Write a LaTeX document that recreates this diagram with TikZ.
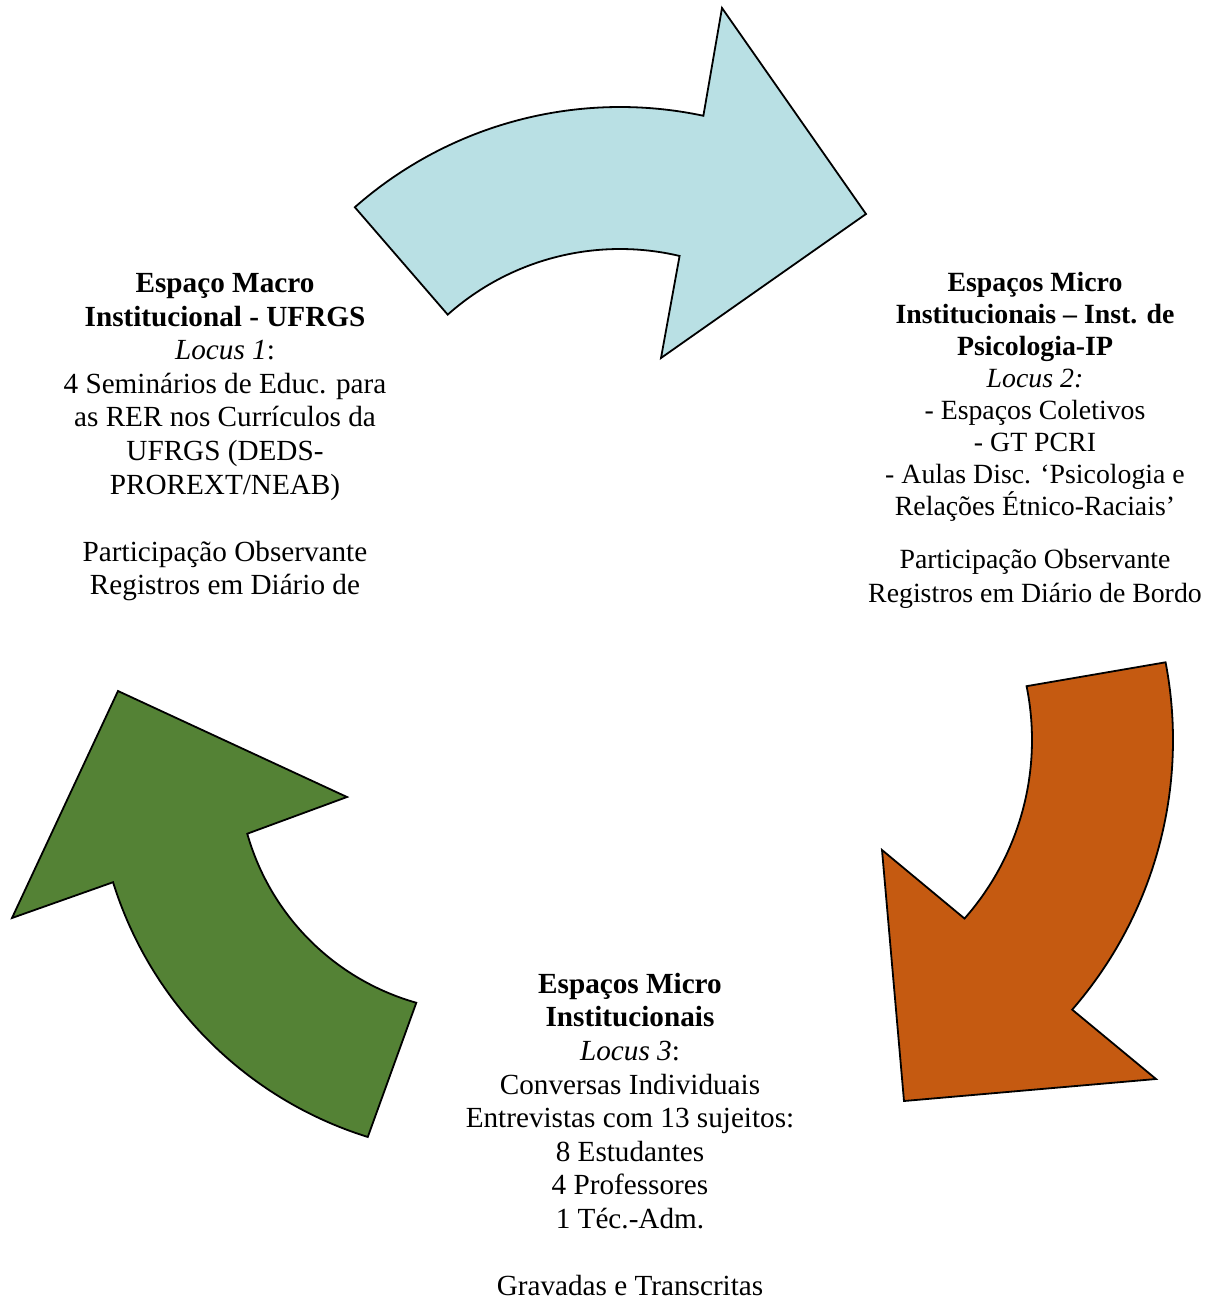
\documentclass[tikz,border=0pt]{standalone}
\usepackage{fontspec}
\setmainfont{Liberation Serif}
\usetikzlibrary{calc}
\definecolor{blueA}{HTML}{B9E0E4}
\definecolor{orangeA}{HTML}{C55A11}
\definecolor{greenA}{HTML}{548235}
\begin{document}
\begin{tikzpicture}[x=0.5pt,y=-0.5pt,
  arrowshape/.style={draw=black, line width=0.9pt, line join=miter},
  lbl/.style={align=center, inner sep=0pt, anchor=north, font=\fontsize{14.6}{16.8}\selectfont}]
\useasboundingbox (0,0) rectangle (1216,1302);
% blue arrow (top)
\coordinate (cb) at (620,508);
\path[arrowshape, fill=blueA] ($(cb)+(-131.4:401)$) arc[start angle=-131.4, end angle=-78, radius=401]
  -- (722,8) -- (866,214) -- (661,358)
  -- ($(cb)+(-76.7:259)$) arc[start angle=-76.7, end angle=-131.7, radius=259] -- cycle;
% orange arrow (right)
\coordinate (co) at (762,740);
\path[arrowshape, fill=orangeA] ($(co)+(-10.9:411)$) arc[start angle=-10.9, end angle=41.0, radius=411]
  -- (1156,1079) -- (904,1101) -- (882,850)
  -- ($(co)+(41.4:270)$) arc[start angle=41.4, end angle=-11.5, radius=270] -- cycle;
% green arrow (left)
\coordinate (cg) at (483,767);
\path[arrowshape, fill=greenA] ($(cg)+(105.8:245)$) arc[start angle=105.8, end angle=164.2, radius=245]
  -- (347,797) -- (118,691) -- (12,918)
  -- ($(cg)+(162.7:387.5)$) arc[start angle=162.7, end angle=107.3, radius=387.5] -- cycle;
% texts
\node[lbl] (macro) at (225,270) {\rule{0pt}{11pt}\textbf{Espaço Macro}\\ \textbf{Institucional - UFRGS}\\ \textit{Locus 1}:\\ 4 Seminários de Educ. para\\ as RER nos Currículos da\\ UFRGS (DEDS-\\ PROREXT/NEAB)\\[16.8pt] Participação Observante\\ Registros em Diário de};
\node[lbl, font=\fontsize{13.9}{16}\selectfont] (micro) at (1035,269) {\rule{0pt}{11pt}\textbf{Espaços Micro}\\ \textbf{Institucionais – Inst. de}\\ \textbf{Psicologia-IP}\\ \textit{Locus 2:}\\ - Espaços Coletivos\\ - GT PCRI\\ - Aulas Disc. ‘Psicologia e\\ Relações Étnico-Raciais’\\[10.5pt] Participação Observante\\[1pt] Registros em Diário de Bordo};
\node[lbl, font=\fontsize{14.6}{16.78}\selectfont] (locus) at (630,971) {\rule{0pt}{11pt}\textbf{Espaços Micro}\\ \textbf{Institucionais}\\ \textit{Locus 3}:\\ Conversas Individuais\\ Entrevistas com 13 sujeitos:\\ 8 Estudantes\\ 4 Professores\\ 1 Téc.-Adm.\\[16.78pt] Gravadas e Transcritas};
\end{tikzpicture}
\end{document}
